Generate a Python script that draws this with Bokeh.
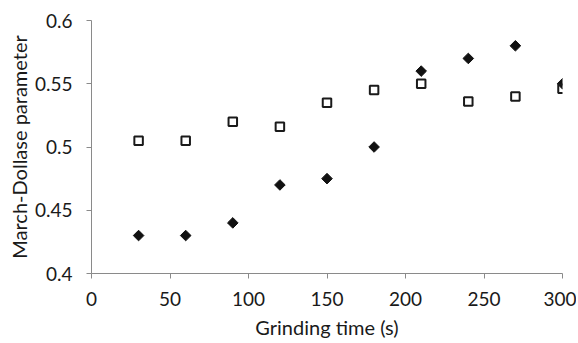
import math
from bokeh.plotting import figure
from bokeh.models import Range1d, FixedTicker
from bokeh.embed import file_html
from bokeh.resources import INLINE

time_s = [30, 60, 90, 120, 150, 180, 210, 240, 270, 300]
series_filled = [0.43, 0.43, 0.44, 0.47, 0.475, 0.50, 0.56, 0.57, 0.58, 0.55]
series_open = [0.505, 0.505, 0.52, 0.516, 0.535, 0.545, 0.55, 0.536, 0.54, 0.546]

x_ticks = [0, 50, 100, 150, 200, 250, 300]
x_tick_labels = ["0", "50", "100", "150", "200", "250", "300"]
y_ticks = [0.4, 0.45, 0.5, 0.55, 0.6]
y_tick_labels = ["0.4", "0.45", "0.5", "0.55", "0.6"]

FONT = "Lato"
TXT = "#1a1a1a"
AX = "#8a8a8a"

p = figure(width=576, height=341, output_backend="svg", toolbar_location=None,
           x_range=Range1d(0, 300), y_range=Range1d(0.4, 0.6),
           min_border_left=91, min_border_right=14, min_border_top=20, min_border_bottom=66)
p.outline_line_color = None
p.xgrid.visible = False
p.ygrid.visible = False
p.background_fill_color = "white"

p.scatter(time_s, series_filled, marker="square", angle=math.pi / 4, size=7.5,
          fill_color="#111111", line_color="#111111", line_width=1)
p.scatter(time_s, series_open, marker="square", size=8.5, fill_alpha=0,
          line_color="#1a1a1a", line_width=2)

for ax, ticks, labels in ((p.xaxis[0], x_ticks, x_tick_labels), (p.yaxis[0], y_ticks, y_tick_labels)):
    ax.ticker = FixedTicker(ticks=ticks)
    ax.major_label_overrides = {t: l for t, l in zip(ticks, labels)}
    ax.minor_tick_line_color = None
    ax.major_tick_in = 0
    ax.major_tick_out = 5
    ax.axis_line_color = AX
    ax.major_tick_line_color = AX
    ax.major_label_text_font = FONT
    ax.major_label_text_font_size = "19px"
    ax.major_label_text_color = TXT
    ax.axis_label_text_font = FONT
    ax.axis_label_text_font_size = "20px"
    ax.axis_label_text_font_style = "normal"
    ax.axis_label_text_color = TXT

p.xaxis.axis_label = "Grinding time (s)"
p.yaxis.axis_label = "March-Dollase parameter"
p.xaxis.major_label_standoff = 13
p.yaxis.major_label_standoff = 14
p.xaxis.axis_label_standoff = 6
p.yaxis.axis_label_standoff = 1

open("out.html", "w").write(file_html(p, INLINE))
